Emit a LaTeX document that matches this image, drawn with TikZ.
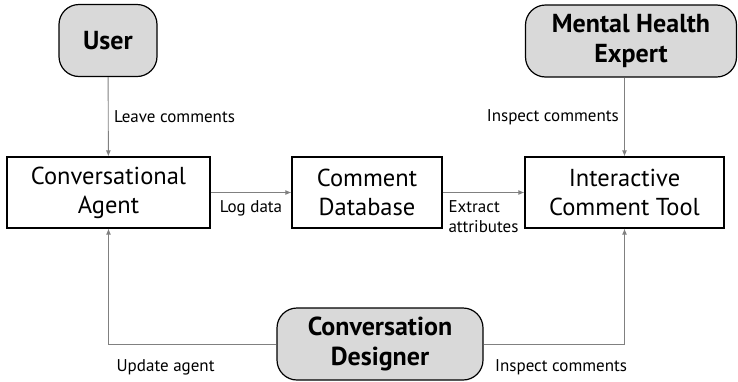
\documentclass[tikz,border=0pt]{standalone}
\usepackage{fontspec}
\setmainfont{PT Sans}
\usetikzlibrary{arrows.meta}

\begin{document}
\begin{tikzpicture}[x=1pt,y=-1pt,
    role/.style={draw,line width=1.2pt,fill=gray!30,rounded corners=20pt,align=center,
      inner sep=0pt,minimum height=72pt,font=\fontsize{26}{30}\selectfont\bfseries},
    part/.style={draw,line width=1.2pt,align=center,inner sep=0pt,minimum height=71pt,
      font=\fontsize{24.5}{29}\selectfont},
    flow/.style={draw=gray,line width=0.9pt,-{Latex[length=6pt,width=5pt]}},
    lab/.style={font=\fontsize{17}{20}\selectfont,align=left}]
  \useasboundingbox (0,0) rectangle (738,381);

  % people around the system
  \node[role,minimum width=98pt] (user) at (108,40.5) {User};
  \node[role,minimum width=211pt] (expert) at (631,41) {Mental Health\\Expert};
  \node[role,minimum width=206pt] (designer) at (380,344) {Conversation\\Designer};

  % the system itself
  \node[part,minimum width=203pt] (agent) at (108.5,192.5) {Conversational\\Agent};
  \node[part,minimum width=150pt] (database) at (367,192.5) {Comment\\Database};
  \node[part,minimum width=199pt] (tool) at (624.5,192.5) {Interactive\\Comment Tool};

  % data flows
  \draw[flow] (user) -- node[lab,right,xshift=2pt] {Leave comments} (agent);
  \draw[flow] (expert.south -| tool.north) -- node[lab,left,xshift=-2pt] {Inspect comments} (tool);
  \draw[flow] (agent) -- node[lab,below,yshift=-4pt] {Log data} (database);
  \draw[flow] (database) -- node[lab,below,yshift=-4pt] {Extract\\attributes} (tool);
  \draw[flow] (designer.west) -| node[lab,below,yshift=-12pt,pos=0.33] {Update agent} (agent.south);
  \draw[flow] (designer.east) -| node[lab,below,yshift=-12pt,pos=0.275] {Inspect comments} (tool.south);
\end{tikzpicture}
\end{document}
